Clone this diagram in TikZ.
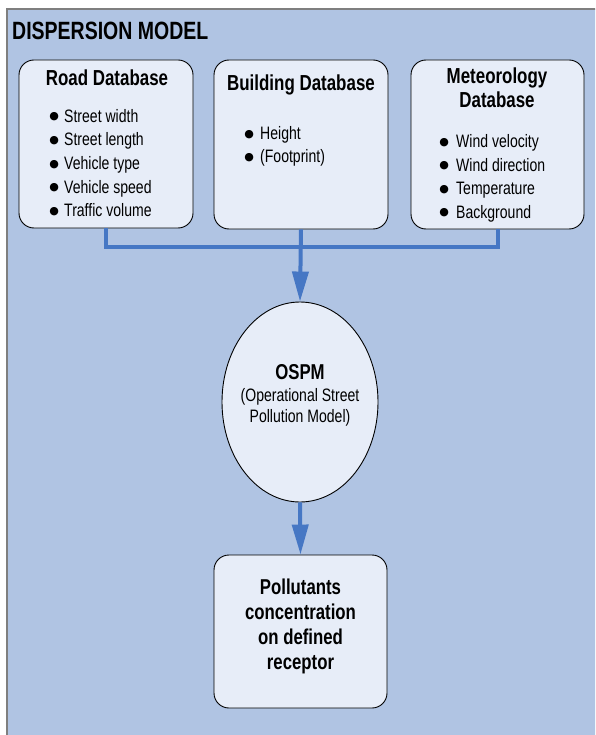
\documentclass[tikz,border=0pt]{standalone}
\usepackage{fontspec}
\setmainfont[FakeStretch=0.78]{Liberation Sans}
\newfontfamily\bulfont{DejaVu Sans}
\usetikzlibrary{arrows.meta,shapes.geometric}
\definecolor{bgblue}{HTML}{B0C4E3}
\definecolor{boxfill}{HTML}{E7EDF8}
\definecolor{connblue}{HTML}{4677C4}
\definecolor{framegray}{HTML}{7F7F7F}
\tikzset{
  dbbox/.style={draw=black, line width=0.9pt, fill=boxfill, rounded corners=15pt, inner sep=0pt},
  conn/.style={draw=connblue, line width=4pt},
  flowarrow/.style={conn, -{Triangle[width=16pt,length=30pt]}},
  boxtitle/.style={font=\fontsize{21.7}{24}\selectfont\bfseries, align=center, anchor=base, inner sep=0pt},
  bullets/.style={font=\fontsize{18}{23.7}\selectfont, align=left, anchor=base west, inner sep=0pt},
}
\newcommand{\bulsep}{10pt}
\newcommand{\bul}{\makebox[0pt][c]{\smash{\raisebox{2.5pt}{\bulfont\fontsize{11}{11}\selectfont ●}}}\hspace{\bulsep}}
\begin{document}
\begin{tikzpicture}[x=1pt,y=-1pt]
\useasboundingbox (0,0) rectangle (595,735);
\clip (0,0) rectangle (595,735);
\fill[white] (0,0) rectangle (595,735);
\draw[framegray, line width=1.5pt, fill=bgblue] (7,9) rectangle (620,760);
\node[anchor=base west, font=\fontsize{25}{28}\selectfont\bfseries, inner sep=0pt] (title) at (12,40) {DISPERSION MODEL};

% boxes
\node[dbbox, minimum width=174pt, minimum height=168pt] (road) at (106,144) {};
\node[dbbox, minimum width=174pt, minimum height=169pt] (bld) at (301,144.5) {};
\node[dbbox, minimum width=173pt, minimum height=169pt] (met) at (497.5,144.5) {};

\node[boxtitle] (roadt) at (107,86) {Road Database};
\node[bullets] (roadl) at (54,217) {\bul Street width\\\bul Street length\\\bul Vehicle type\\\bul Vehicle speed\\\bul Traffic volume};

\node[boxtitle] (bldt) at (301,91) {Building Database};
\renewcommand{\bulsep}{11pt}
\node[bullets, font=\fontsize{18}{23}\selectfont] (bldl) at (249,163) {\bul Height\\\bul (Footprint)};

\node[boxtitle] (mett) at (497,108) {Meteorology\\Database};
\renewcommand{\bulsep}{12pt}
\node[bullets, font=\fontsize{18}{23.5}\selectfont] (metl) at (444,218.5) {\bul Wind velocity\\\bul Wind direction\\\bul Temperature\\\bul Background};

% ellipse
\node[ellipse, draw=black, line width=0.9pt, fill=boxfill, minimum width=156pt, minimum height=200pt, inner sep=0pt] (ospm) at (300,402) {};
\node[font=\fontsize{21.5}{24}\selectfont\bfseries, anchor=base, inner sep=0pt] (ospmt) at (300,379) {OSPM};
\node[font=\fontsize{18}{20.5}\selectfont, align=center, anchor=base, inner sep=0pt] (ospmd) at (300,422) {(Operational Street\\Pollution Model)};

% result
\node[dbbox, minimum width=173pt, minimum height=153pt] (res) at (300.5,631.5) {};
\node[boxtitle, font=\fontsize{21.5}{24.7}\selectfont\bfseries] (rest) at (300.5,669) {Pollutants\\concentration\\on defined\\receptor};

% connectors
\coordinate (bus) at (301,247);
\draw[conn] (road.south) |- (bus) -| (met.south);
\draw[flowarrow] (bld.south) -- (ospm.north);
\draw[flowarrow] (ospm.south) -- (res.north);
\end{tikzpicture}
\end{document}
